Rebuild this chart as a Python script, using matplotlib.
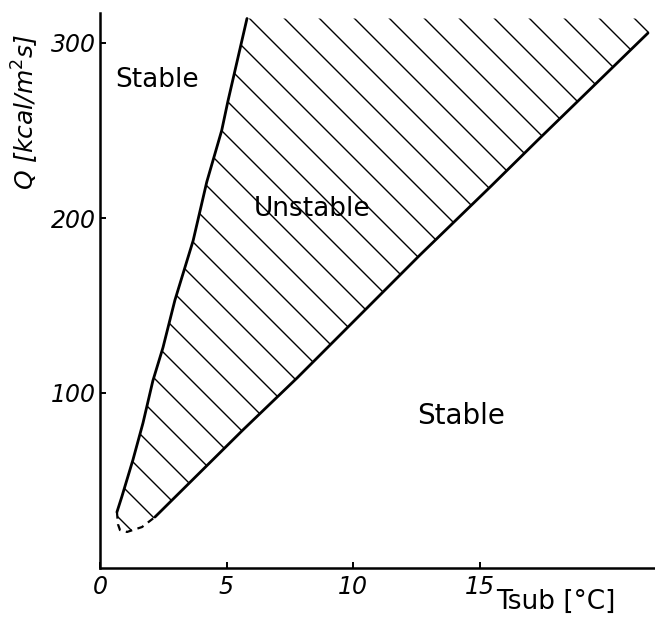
import numpy as np
import matplotlib
matplotlib.use("Agg")
import matplotlib.pyplot as plt
from matplotlib.patches import Polygon

# ---- data ----
# left (solid) boundary of the unstable region, bottom to top
left_x = [0.67, 0.86, 1.30, 1.70, 2.09, 2.49, 2.96, 3.68, 4.22, 4.81, 5.06, 5.81]
left_q = [32.0, 40.6, 61.7, 82.9, 107.0, 126.0, 153.0, 187.0, 220.6, 250.0, 267.0, 314.0]
# right (solid) boundary, bottom to top
right_x = [2.17, 5.65, 7.79, 8.58, 12.65, 15.42, 17.31, 21.66]
right_q = [29.1, 78.9, 108.6, 120.0, 178.9, 217.7, 244.6, 305.7]
# dashed closing curve at the bottom (from left end to right end)
dash_x = [0.67, 0.71, 0.79, 1.07, 1.30, 1.66, 2.17]
dash_q = [32.0, 25.0, 21.7, 20.6, 21.7, 23.4, 29.1]
q_top = 314.0  # top of the hatched region

xticks = [0, 5, 10, 15]
yticks = [100, 200, 300]

labels = ["Stable", "Unstable", "Stable"]
label_x = [2.25, 8.4, 14.27]
label_q = [279.0, 205.0, 86.9]
label_size = [19, 19, 20]

W, H, DPI = 655, 634, 100
fig = plt.figure(figsize=(W / DPI, H / DPI), dpi=DPI)
ax = fig.add_axes([100 / W, 66 / H, 555 / W, 555 / H])
ax.set_xlim(0, 555 / 25.3)
ax.set_ylim(0, 555 / 1.75)

for s in ["top", "right"]:
    ax.spines[s].set_visible(False)
for s in ["left", "bottom"]:
    ax.spines[s].set_linewidth(1.8)

ax.set_xticks(xticks)
ax.set_yticks(yticks)
ax.set_xticklabels([str(v) for v in xticks], fontsize=17, style="italic")
ax.set_yticklabels([str(v) for v in yticks], fontsize=17, style="italic")
ax.tick_params(direction="in", length=4, width=1.4, pad=4)
ax.tick_params(axis="y", pad=3)
ax.tick_params(axis="x", pad=5)

# boundaries
ax.plot(left_x, left_q, color="black", lw=2.0, solid_capstyle="round")
ax.plot(right_x, right_q, color="black", lw=2.0, solid_capstyle="round")
ax.plot(dash_x, dash_q, color="black", lw=1.6, ls=(0, (3, 2.5)))

# region for hatching (clip path)
x_top_right = right_x[-1] + (q_top - right_q[-1]) * (right_x[-1] - right_x[-2]) / (right_q[-1] - right_q[-2])
poly_x = left_x + [x_top_right] + right_x[::-1] + dash_x[::-1][1:]
poly_q = left_q + [q_top] + right_q[::-1] + dash_q[::-1][1:]
region = Polygon(np.column_stack([poly_x, poly_q]), closed=True,
                 facecolor="none", edgecolor="none", transform=ax.transData)
ax.add_patch(region)

# hatch lines at 45 degrees in pixel space, perpendicular to the right boundary
fig.canvas.draw()
p0 = ax.transData.transform((0, 0))
p1 = ax.transData.transform((1, 1))
px_per_x = p1[0] - p0[0]
px_per_q = p1[1] - p0[1]
k = px_per_x / px_per_q          # dQ/dx magnitude for 45-degree pixel line
step = 35.0 / px_per_x           # spacing along the top edge
x0 = left_x[-1] + 0.1
xs = np.array([-2.0, 25.0])
for i in range(-20, 14):
    xi = x0 + i * step
    ln, = ax.plot(xs, q_top - k * (xs - xi), color="black", lw=1.0)
    ln.set_clip_path(region)

for t, x, q, s in zip(labels, label_x, label_q, label_size):
    ax.text(x, q, t, fontsize=s, ha="center", va="center")

fig.text(25 / W, 1 - 112 / H, "Q [kcal/m$^2$s]", rotation=90, fontsize=18,
         ha="center", va="center", style="italic")
fig.text(556 / W, 1 - 602 / H, "Tsub [°C]", fontsize=19, ha="center", va="center")

fig.savefig("out.png", dpi=DPI)
